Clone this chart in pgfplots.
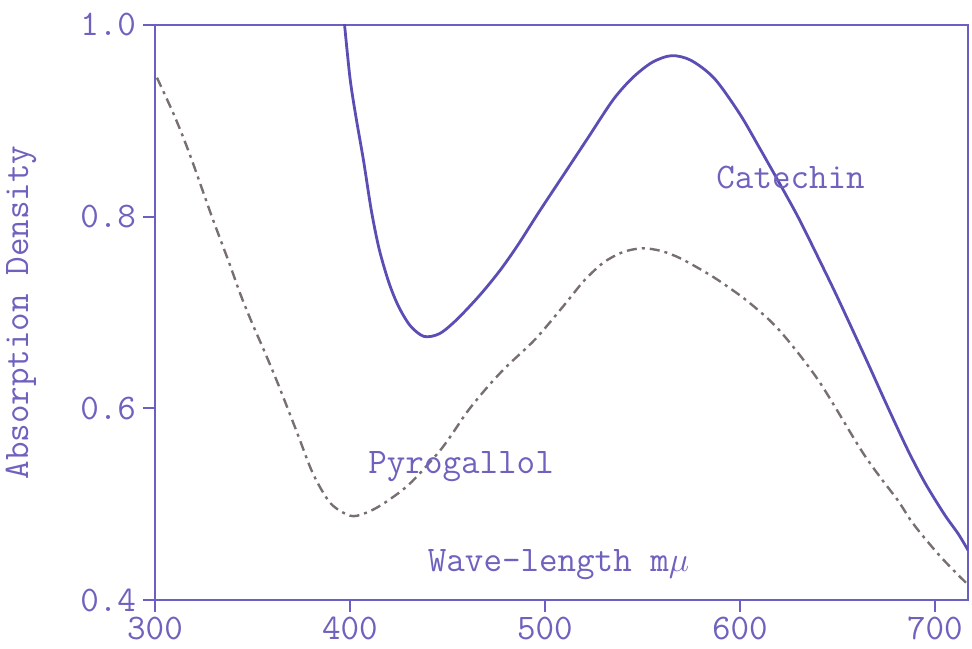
\documentclass[border=0pt]{standalone}
\usepackage{pgfplots}
\pgfplotsset{compat=1.18}
\definecolor{axiscol}{HTML}{6A60C4}
\definecolor{textcol}{HTML}{6E62BE}
\definecolor{catcol}{HTML}{5A4EB4}
\definecolor{pyrcol}{HTML}{787070}
\newcommand{\tw}{\ttfamily\fontsize{18}{21}\selectfont}
\begin{document}
\begin{tikzpicture}
\begin{axis}[
  scale only axis,
  width=406.5pt, height=287.5pt,
  xmin=300, xmax=717, ymin=0.4, ymax=1.0,
  axis line style={axiscol, line width=1.1pt},
  xtick={300,400,500,600,700},
  xticklabels={300,400,500,600,700},
  ytick={0.4,0.6,0.8,1.0},
  yticklabels={0.4,0.6,0.8,1.0},
  tick align=outside,
  xtick pos=left, ytick pos=left,
  major tick length=6pt,
  tick style={axiscol, line width=1pt},
  ticklabel style={font=\tw, text=textcol},
  xticklabel style={yshift=1pt},
  clip=true,
]
\addplot[catcol, line width=1.4pt, smooth, tension=0.5] coordinates {
(397,1.005) (400,0.945) (403,0.905) (407,0.858) (411,0.806) (415,0.766) (420,0.731) (425,0.706)
(431,0.686) (438,0.675) (446,0.678) (455,0.693) (467,0.719) (477,0.744) (486,0.770)
(497,0.805) (510,0.845) (522,0.882) (535,0.922) (545,0.945) (555,0.961) (565,0.968)
(575,0.963) (587,0.944) (600,0.907) (610,0.872) (620,0.836) (630,0.799) (640,0.758)
(650,0.716) (665,0.650) (675,0.605) (686,0.557) (695,0.522) (705,0.489) (712,0.469) (717,0.452)
};
\addplot[pyrcol, line width=1.2pt, smooth, tension=0.5, dash pattern=on 5pt off 2.5pt on 1.5pt off 2.5pt] coordinates {
(301,0.945) (310,0.905) (318,0.864) (329,0.801) (338,0.752) (344,0.718) (350,0.688) (356,0.660)
(363,0.626) (373,0.574) (381,0.532) (390,0.501) (400,0.488) (407,0.490) (416,0.499)
(430,0.520) (445,0.553) (452,0.572) (460,0.596) (470,0.621) (480,0.643) (495,0.672)
(510,0.708) (520,0.733) (530,0.752) (540,0.763) (550,0.767) (560,0.764) (570,0.756) (584,0.740)
(593,0.728) (605,0.710) (620,0.682) (640,0.630) (662,0.557) (672,0.528) (681,0.504)
(688,0.482) (695,0.464) (703,0.445) (712,0.426) (717,0.416)
};
\node[text=textcol, font=\tw] at (axis cs:626,0.841) {Catechin};
\node[text=textcol, font=\tw] at (axis cs:457,0.539) {Pyrogallol};
\node[text=textcol, font=\tw] at (axis cs:507,0.437) {Wave-length m$\mu$};
\end{axis}
\node[rotate=90, text=textcol, font=\tw] at ([xshift=-67pt]current axis.west) {Absorption Density};
\pgfresetboundingbox
\path ([shift={(-77.5pt,-24.5pt)}]current axis.south west) rectangle ([shift={(2pt,12.5pt)}]current axis.north east);
\end{tikzpicture}
\end{document}
